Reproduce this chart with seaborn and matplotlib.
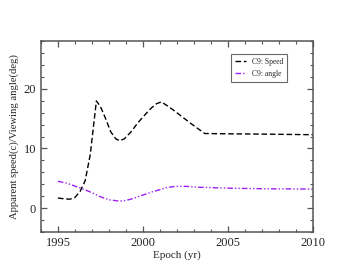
import numpy as np
import pandas as pd
import matplotlib
matplotlib.use("Agg")
import matplotlib.pyplot as plt
from matplotlib.ticker import MultipleLocator
import seaborn as sns

# C9 apparent speed (c) and viewing angle (deg) vs epoch
speed_year = [1995.0, 1995.4, 1995.7, 1996.0, 1996.3, 1996.6, 1996.9, 1997.1, 1997.26,
              1997.5, 1997.8, 1998.1, 1998.4, 1998.63, 1998.9, 1999.3, 1999.7, 2000.1,
              2000.5, 2000.8, 2001.08, 2001.4, 2001.8, 2002.3, 2002.9, 2003.63, 2005.0,
              2007.0, 2010.0]
speed_val = [1.7, 1.55, 1.5, 1.8, 2.8, 4.6, 9.0, 14.0, 17.95,
             17.0, 15.0, 12.8, 11.6, 11.3, 11.6, 12.8, 14.3, 15.6,
             16.8, 17.5, 17.8, 17.2, 16.4, 15.3, 14.0, 12.5, 12.45,
             12.4, 12.3]
angle_year = [1995.0, 1995.5, 1996.0, 1996.47, 1997.0, 1997.5, 1998.0, 1998.63, 1999.0,
              1999.4, 2000.0, 2000.5, 2001.0, 2001.4, 2001.9, 2002.55, 2003.3, 2005.0,
              2007.0, 2010.0]
angle_val = [4.5, 4.2, 3.7, 3.2, 2.6, 1.9, 1.4, 1.17, 1.3,
             1.6, 2.2, 2.7, 3.1, 3.45, 3.65, 3.65, 3.5, 3.35,
             3.25, 3.2]

df = pd.concat([
    pd.DataFrame({"epoch": speed_year, "value": speed_val, "series": "C9: Speed"}),
    pd.DataFrame({"epoch": angle_year, "value": angle_val, "series": "C9: angle"}),
])

sns.set_style("ticks")
plt.rcParams["font.family"] = ["Liberation Serif", "DejaVu Serif"]

fig = plt.figure(figsize=(3.53, 2.73), dpi=100)
ax = fig.add_axes([0.116, 0.150, 0.771, 0.700])

sns.lineplot(data=df, x="epoch", y="value", hue="series", style="series",
             palette={"C9: Speed": "black", "C9: angle": "#a020f0"},
             dashes={"C9: Speed": (4, 2), "C9: angle": (4, 1.5, 1, 1.5, 1, 1.5)},
             linewidth=1.0, sort=False, estimator=None, ax=ax)

ax.set_xlim(1994, 2010)
ax.set_ylim(-4, 28)
ax.set_xticks([1995, 2000, 2005, 2010])
ax.set_yticks([0, 10, 20])
ax.xaxis.set_minor_locator(MultipleLocator(1))
ax.yaxis.set_minor_locator(MultipleLocator(2))
ax.tick_params(which="both", direction="in", top=True, right=True, labelsize=9,
               color="#555555")
ax.tick_params(which="major", length=4, width=0.9)
ax.tick_params(which="minor", length=2, width=0.8)
for s in ax.spines.values():
    s.set_linewidth(1.1)
    s.set_color("#555555")

ax.set_xlabel("Epoch (yr)", fontsize=8, labelpad=1)
ax.set_ylabel("Apparent speed(c)/Viewing angle(deg)", fontsize=7.7, labelpad=3)

leg = ax.legend(loc="upper right", bbox_to_anchor=(0.905, 0.93), fontsize=5.5,
                frameon=True, fancybox=False, handlelength=1.4, borderpad=0.5,
                labelspacing=0.5, handletextpad=0.8, borderaxespad=0)
leg.get_frame().set_edgecolor("#444444")
leg.get_frame().set_linewidth(0.8)

fig.savefig("out.png", dpi=100)
